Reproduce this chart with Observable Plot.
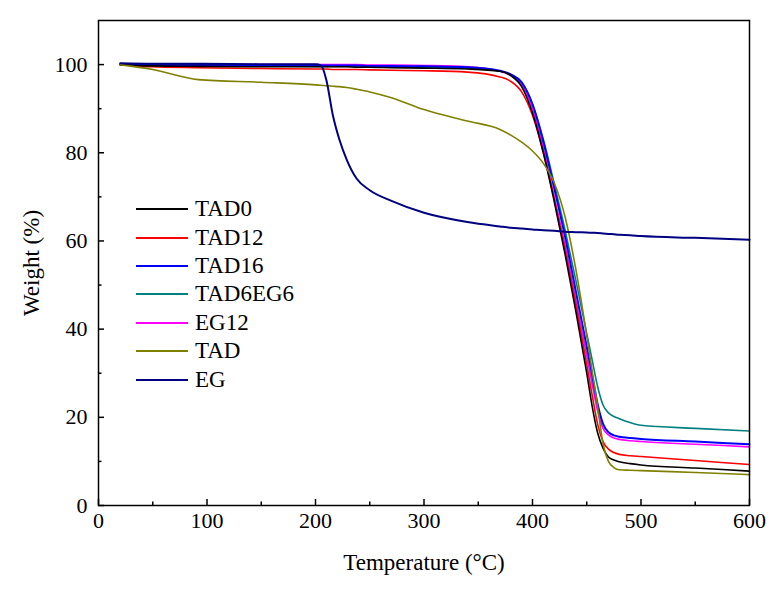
<!DOCTYPE html>
<html><head><meta charset="utf-8">
<script src="https://cdn.jsdelivr.net/npm/d3@7"></script>
<script src="https://cdn.jsdelivr.net/npm/@observablehq/plot@0.6"></script>
<style>
body{margin:0;background:#fff}
#wrap{position:relative;width:780px;height:591px}
#legend{position:absolute;left:136px;top:195px;font-family:"Liberation Serif","Times New Roman",serif;font-size:23px;color:#000}
#legend .row{display:flex;align-items:center;height:28.4px}
#legend svg{width:52px;height:6px;margin-right:7px}
</style>
</head><body><div id="wrap"><div id="legend"></div></div>
<script>
const temps = [20, 50, 92, 150, 200, 205, 210, 216, 222, 229, 238, 250, 270, 300, 340, 370, 380, 390, 400, 410, 420, 430, 440, 450, 455, 460, 465, 470, 475, 480, 490, 500, 550, 600];

const TAD0 = [100, 99.7, 99.6, 99.5, 99.5, 99.5, 99.5, 99.5, 99.5, 99.5, 99.4, 99.4, 99.3, 99.2, 99.0, 98.5, 97.5, 95, 89, 80, 69, 57, 44, 30, 22.5, 16.5, 13, 11, 10.3, 9.9, 9.5, 9.2, 8.5, 7.8];
const TAD12 = [100, 99.5, 99.3, 99.1, 99.0, 99.0, 99.0, 98.9, 98.9, 98.9, 98.9, 98.8, 98.7, 98.6, 98.3, 97.2, 96.2, 93.8, 88.5, 80, 69.5, 58, 45.5, 32, 25, 18.5, 14.5, 12.8, 12, 11.6, 11.3, 11.1, 10.2, 9.3];
const TAD16 = [100, 99.9, 99.9, 99.8, 99.8, 99.8, 99.8, 99.8, 99.8, 99.8, 99.8, 99.7, 99.7, 99.6, 99.4, 98.6, 97.8, 96, 91, 82.5, 72, 61, 48.5, 36, 29.5, 23, 18.5, 16.6, 15.9, 15.6, 15.3, 15.1, 14.5, 13.9];
const TAD6EG6 = [100, 99.8, 99.7, 99.7, 99.6, 99.6, 99.6, 99.6, 99.6, 99.6, 99.6, 99.5, 99.5, 99.4, 99.2, 98.5, 97.7, 96, 91, 83, 73, 62.5, 51, 39, 33, 27, 22.8, 21, 20.2, 19.7, 18.8, 18.2, 17.5, 16.9];
const EG12 = [100, 100.1, 100.1, 100, 100, 100, 100, 100, 100, 100, 100, 99.9, 99.9, 99.8, 99.5, 98.5, 97.5, 95.5, 90, 81, 70, 59, 46.5, 34, 27.5, 21.5, 17.5, 16, 15.3, 15, 14.7, 14.5, 13.9, 13.3];
const TAD = [100, 98.9, 96.6, 96, 95.4, 95.3, 95.2, 95.1, 95, 94.8, 94.4, 93.8, 92.5, 89.8, 87.2, 85.3, 84.0, 82.4, 80.4, 77.6, 73.2, 65.5, 53.5, 38.5, 30.5, 22.5, 14, 10, 8.6, 8.1, 8, 7.9, 7.5, 7.0];
const EG = [100.3, 100.2, 100.2, 100.1, 100.1, 99.8, 96.5, 88.5, 83, 78.3, 74.1, 71.5, 69.1, 66.4, 64.3, 63.3, 63, 62.8, 62.6, 62.4, 62.3, 62.1, 62, 61.9, 61.85, 61.8, 61.7, 61.6, 61.5, 61.4, 61.3, 61.1, 60.7, 60.3];

const seriesNames = ["TAD0", "TAD12", "TAD16", "TAD6EG6", "EG12", "TAD", "EG"];
const seriesValues = [TAD0, TAD12, TAD16, TAD6EG6, EG12, TAD, EG];
const seriesColors = ["#000000", "#ff0000", "#0000ff", "#008080", "#ff00ff", "#808000", "#000080"];

const xMajor = [0, 100, 200, 300, 400, 500, 600];
const xMinor = [50, 150, 250, 350, 450, 550];
const yMajor = [0, 20, 40, 60, 80, 100];
const yMinor = [10, 30, 50, 70, 90];

const lineWidth = name => (name === "TAD16" || name === "EG") ? 2 : 1.6;

const drawOrder = [3, 4, 2, 1, 0, 5, 6];
const lineMarks = drawOrder.map(k => {
  const rows = temps.map((t, i) => ({t, w: seriesValues[k][i]}));
  return Plot.line(rows, {x: "t", y: "w", stroke: seriesColors[k], strokeWidth: lineWidth(seriesNames[k]), curve: "monotone-x"});
});

const plot = Plot.plot({
  width: 780, height: 591,
  marginLeft: 98, marginRight: 31, marginTop: 20, marginBottom: 86,
  style: {fontFamily: "'Liberation Serif','Times New Roman',serif", fontSize: "22px", background: "#fff", color: "#000", overflow: "visible"},
  x: {domain: [0, 600]},
  y: {domain: [0, 110]},
  marks: [
    ...lineMarks,
    Plot.frame({stroke: "#000", strokeWidth: 1.5}),
    Plot.axisX({ticks: xMajor, tickSize: -6, tickPadding: 13, strokeWidth: 1.5, tickFormat: d => String(d), label: null, fontSize: 22}),
    Plot.axisX({ticks: xMinor, tickSize: -3.5, strokeWidth: 1.5, tickFormat: () => "", label: "Temperature (°C)", labelArrow: "none", labelAnchor: "center", labelOffset: 64, fontSize: 23}),
    Plot.axisY({ticks: yMajor, tickSize: -6, tickPadding: 17, strokeWidth: 1.5, tickFormat: d => String(d), label: null, fontSize: 22}),
    Plot.axisY({ticks: yMinor, tickSize: -3.5, strokeWidth: 1.5, tickFormat: () => "", label: "Weight (%)", labelArrow: "none", labelAnchor: "center", labelOffset: 76, fontSize: 23})
  ]
});
document.getElementById("wrap").prepend(plot);

const legend = document.getElementById("legend");
seriesNames.forEach((name, i) => {
  const row = document.createElement("div");
  row.className = "row";
  row.innerHTML = `<svg viewBox="0 0 52 6"><line x1="0" x2="52" y1="3" y2="3" stroke="${seriesColors[i]}" stroke-width="2"/></svg><span>${name}</span>`;
  legend.appendChild(row);
});
</script>
</body></html>
